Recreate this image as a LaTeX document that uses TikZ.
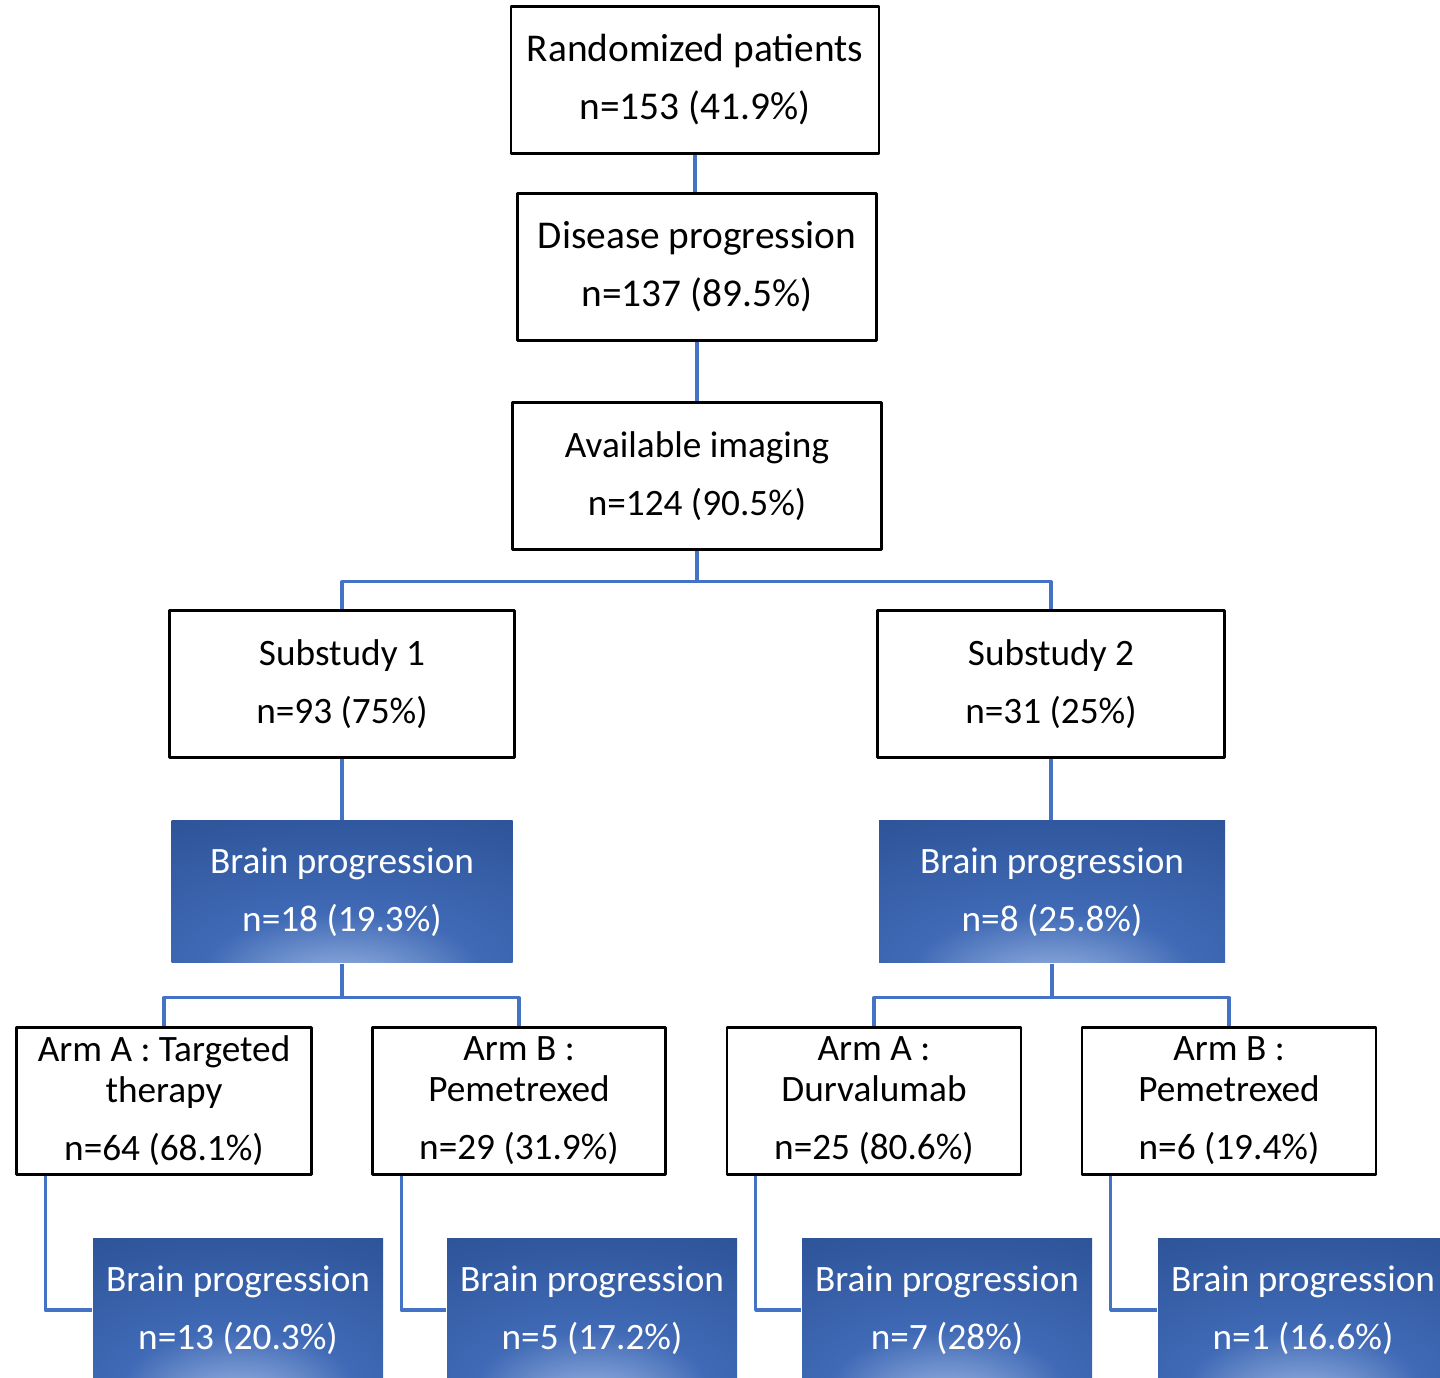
\documentclass[tikz,border=0pt]{standalone}
\usepackage{fontspec}
\setmainfont{Carlito}
\definecolor{glowdark}{RGB}{44,82,150}
\definecolor{glowmid}{RGB}{64,106,182}
\definecolor{glowlight}{RGB}{160,185,228}
\definecolor{linkblue}{RGB}{68,114,196}
\pgfdeclareradialshading{brainglow}{\pgfpoint{0bp}{-34bp}}{color(0bp)=(glowlight); color(20bp)=(glowmid); color(52bp)=(glowdark); color(100bp)=(glowdark)}
\begin{document}
\begin{tikzpicture}[line join=round,
	box/.style={draw=black, line width=0.8pt, align=center, inner sep=0pt, minimum height=1.47cm, font=\fontsize{10.6}{16.5}\selectfont},
	bigbox/.style={box, font=\fontsize{11.2}{16.5}\selectfont},
	brain/.style={shading=brainglow, text=white, align=center, inner sep=0pt, minimum height=1.42cm, font=\fontsize{10.6}{16.5}\selectfont},
	link/.style={draw=linkblue, line width=0.9pt}]
	\useasboundingbox (0,0) rectangle (14.40,-13.78);
	\clip (0,0) rectangle (14.40,-13.78);
	\node[bigbox, minimum width=3.68cm] (rand) at (6.95,-0.80) {Randomized patients\\n=153 (41.9\%)};
	\node[bigbox, minimum width=3.59cm] (prog) at (6.97,-2.67) {Disease progression\\n=137 (89.5\%)};
	\node[box, minimum width=3.69cm] (img) at (6.97,-4.76) {Available imaging\\n=124 (90.5\%)};
	\node[box, minimum width=3.45cm] (sub1) at (3.42,-6.84) {Substudy 1\\n=93 (75\%)};
	\node[box, minimum width=3.47cm] (sub2) at (10.51,-6.84) {Substudy 2\\n=31 (25\%)};
	\node[brain, minimum width=3.41cm] (brain1) at (3.42,-8.92) {Brain progression\\n=18 (19.3\%)};
	\node[brain, minimum width=3.46cm] (brain2) at (10.52,-8.92) {Brain progression\\n=8 (25.8\%)};
	\node[box, minimum width=2.95cm] (armA1) at (1.64,-11.01) {Arm A : Targeted\\[-4.8pt]therapy\\n=64 (68.1\%)};
	\node[box, minimum width=2.93cm] (armB1) at (5.19,-11.01) {Arm B :\\[-4.8pt]Pemetrexed\\n=29 (31.9\%)};
	\node[box, minimum width=2.94cm] (armA2) at (8.74,-11.01) {Arm A :\\[-4.8pt]Durvalumab\\n=25 (80.6\%)};
	\node[box, minimum width=2.94cm] (armB2) at (12.29,-11.01) {Arm B :\\[-4.8pt]Pemetrexed\\n=6 (19.4\%)};
	\draw[link] (rand.south) -- (rand.south |- prog.north);
	\draw[link] (prog.south) -- (img.north);
	\draw[link] (img.south) -- ++(0,-0.31) -| (sub1.north);
	\draw[link] (img.south) -- ++(0,-0.31) -| (sub2.north);
	\draw[link] (sub1.south) -- (brain1.north);
	\draw[link] (sub2.south) -- (sub2.south |- brain2.north);
	\draw[link] (brain1.south) -- ++(0,-0.34) -| (armA1.north);
	\draw[link] (brain1.south) -- ++(0,-0.34) -| (armB1.north);
	\draw[link] (brain2.south) -- ++(0,-0.34) -| (armA2.north);
	\draw[link] (brain2.south) -- ++(0,-0.34) -| (armB2.north);
	\foreach \arm/\bot/\x/\val in {armA1/brainA1/2.38/13 (20.3\%), armB1/brainB1/5.92/5 (17.2\%), armA2/brainA2/9.47/7 (28\%), armB2/brainB2/13.03/1 (16.6\%)}{
		\node[brain, minimum width=2.90cm] (\bot) at (\x,-13.10) {Brain progression\\n=\val};
		\draw[link] ([xshift=0.30cm]\arm.south west) |- (\bot.west);
	}
\end{tikzpicture}
\end{document}
